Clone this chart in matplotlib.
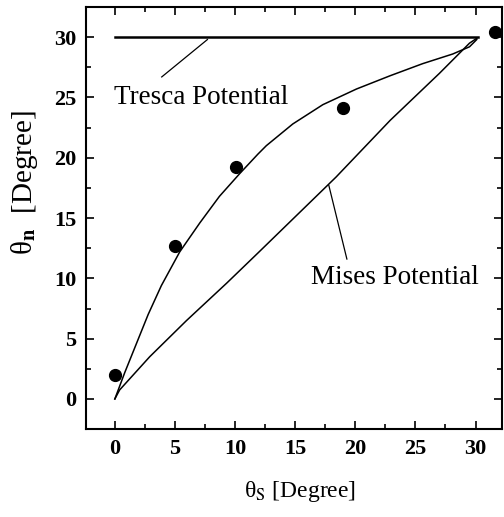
import matplotlib
matplotlib.use('Agg')
import matplotlib.pyplot as plt
from matplotlib.ticker import MultipleLocator

plt.rcParams['font.family'] = 'Liberation Serif'
plt.rcParams['mathtext.fontset'] = 'stix'

# measured points
meas_x = [0, 5, 10.1, 19, 31.6]
meas_y = [2.0, 12.7, 19.2, 24.1, 30.4]

# upper (curved) potential line
curve_x = [0, 0.83, 1.8, 2.77, 3.87, 5.4, 7.07, 8.7, 10.4, 11.9, 12.6,
           14.8, 17.3, 20.1, 22.9, 25.6, 28.1, 29.5, 30.1]
curve_y = [0, 2.2, 4.6, 7.0, 9.4, 12.2, 14.6, 16.8, 18.7, 20.3, 21.0,
           22.8, 24.4, 25.7, 26.8, 27.8, 28.6, 29.2, 29.8]

# Mises potential (near straight)
mises_x = [0, 0.4, 2.9, 5.96, 9.3, 11.9, 18.4, 22.9, 27.0, 29.5, 30.1]
mises_y = [0, 0.75, 3.5, 6.5, 9.6, 12.1, 18.4, 23.1, 27.0, 29.5, 29.9]

# Tresca potential
tresca_x = [0, 30.2]
tresca_y = [30, 30]

fig = plt.figure(figsize=(5.04, 5.17), dpi=100)
ax = fig.add_axes([0.1706, 0.170, 0.8254, 0.8165])

ax.plot(tresca_x, tresca_y, color='black', lw=1.8)
ax.plot(curve_x, curve_y, color='black', lw=1.1)
ax.plot(mises_x, mises_y, color='black', lw=1.1)
ax.plot(meas_x, meas_y, 'o', color='black', ms=8.5, clip_on=False)

# labels with leader lines
ax.text(7.2, 25.0, 'Tresca Potential', fontsize=19.5, ha='center', va='center')
ax.plot([3.9, 7.7], [26.7, 29.8], color='black', lw=0.9)
ax.text(23.3, 10.1, 'Mises Potential', fontsize=19.5, ha='center', va='center')
ax.plot([17.8, 19.3], [17.7, 11.6], color='black', lw=0.9)

ax.set_xlim(-2.4, 32.2)
ax.set_ylim(-2.5, 32.5)
ax.xaxis.set_major_locator(MultipleLocator(5))
ax.xaxis.set_minor_locator(MultipleLocator(2.5))
ax.yaxis.set_major_locator(MultipleLocator(5))
ax.yaxis.set_minor_locator(MultipleLocator(2.5))
ax.tick_params(which='both', direction='in', top=True, right=True, labelsize=16, width=1.2)
ax.tick_params(which='major', length=6, pad=7)
ax.tick_params(which='minor', length=3.5)
for lab in ax.get_xticklabels() + ax.get_yticklabels():
    lab.set_fontweight('bold')
for s in ax.spines.values():
    s.set_linewidth(1.5)

ax.set_xlabel(r'θ$_\mathrm{S}$ [Degree]', fontsize=17)
ax.set_ylabel(r'θ$_\mathbf{n}$  [Degree]', fontsize=21)
ax.xaxis.set_label_coords(0.514, -0.118)
ax.yaxis.set_label_coords(-0.11, 0.583)

fig.savefig('out.png', dpi=100)
